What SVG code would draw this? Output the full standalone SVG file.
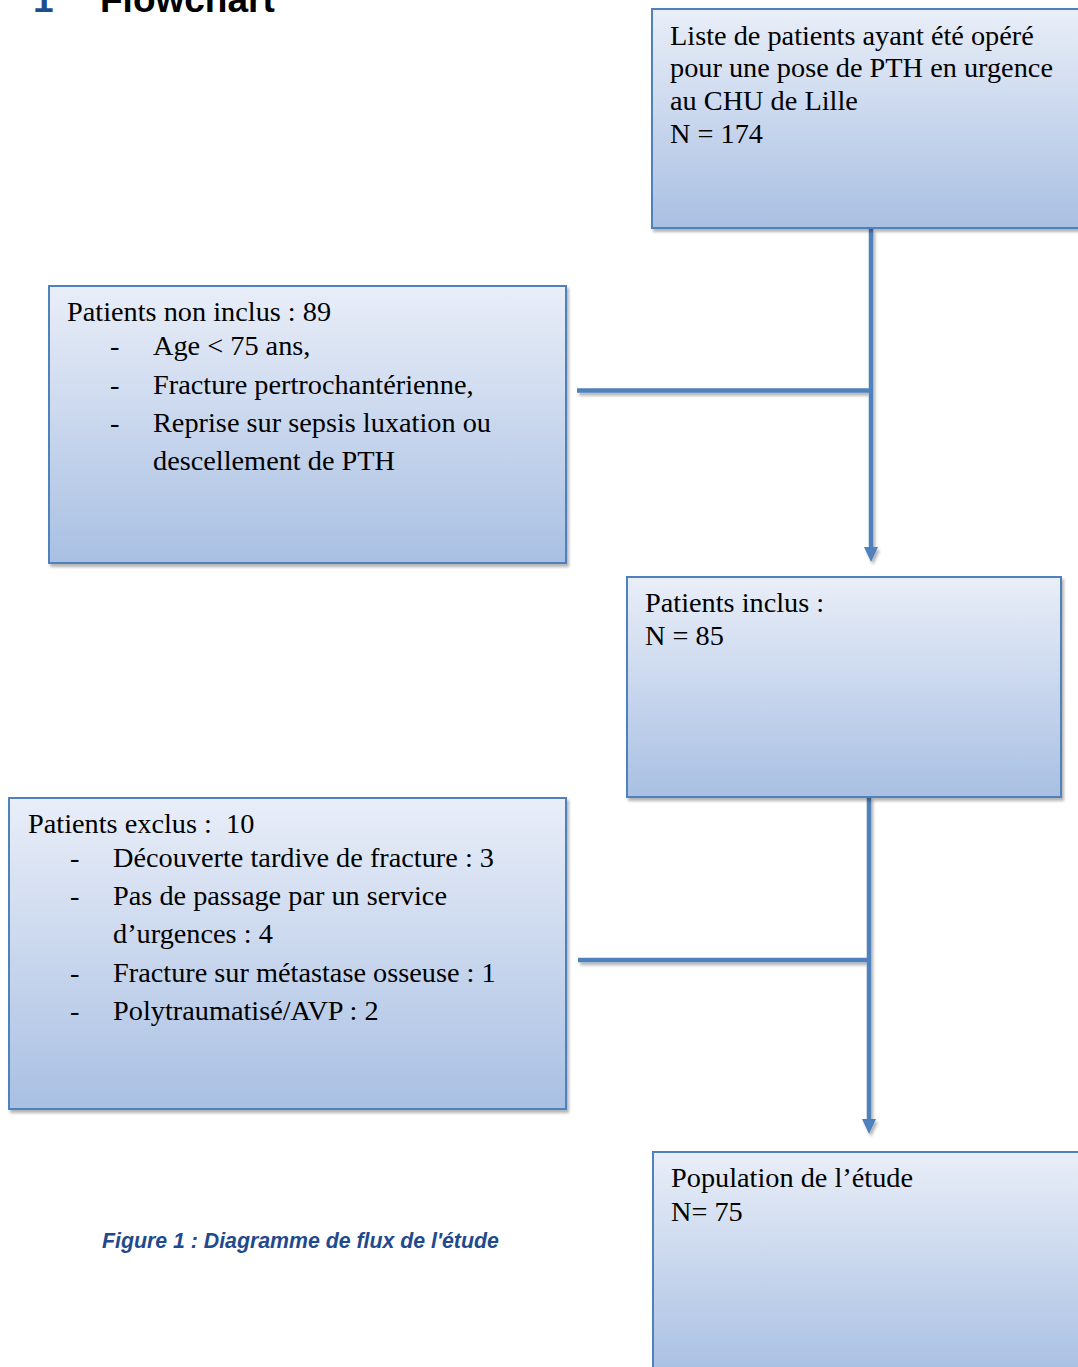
<svg xmlns="http://www.w3.org/2000/svg" width="1078" height="1367" viewBox="0 0 1078 1367">
<style>
.box{fill:url(#g);stroke:#4F81BD;stroke-width:2}
.t{font-family:"Liberation Serif","Times New Roman",serif;font-size:28.3px;fill:#000}
.con{fill:none;stroke:#4F81BD;stroke-width:4.5}
.cap{font-family:"Liberation Sans",Arial,sans-serif;font-size:21.3px;font-weight:bold;font-style:italic;fill:#1F4A8E}
.ttl{font-family:"Liberation Sans",Arial,sans-serif;font-size:37px;font-weight:bold}
</style>
<defs>
<linearGradient id="g" x1="0" y1="0" x2="0" y2="1">
<stop offset="0" stop-color="#E9EEF8"/>
<stop offset="1" stop-color="#A9C0E3"/>
</linearGradient>
<filter id="sh" x="-5%" y="-5%" width="115%" height="115%">
<feGaussianBlur in="SourceAlpha" stdDeviation="1.5"/>
<feOffset dx="2" dy="3" result="b"/>
<feComponentTransfer><feFuncA type="linear" slope="0.3"/></feComponentTransfer>
<feMerge><feMergeNode/><feMergeNode in="SourceGraphic"/></feMerge>
</filter>
<marker id="ah" viewBox="0 0 15 14" refX="0" refY="7" markerWidth="15" markerHeight="14" markerUnits="userSpaceOnUse" orient="auto">
<path d="M0,0 L15,7 L0,14 Z" fill="#4F81BD"/>
</marker>
</defs>
<rect width="1078" height="1367" fill="#fff"/>
<g id="title">
<text class="ttl" x="33" y="12" fill="#1F4E8C">1</text>
<text class="ttl" x="100" y="12" fill="#000">Flowchart</text>
</g>
<g id="connectors" filter="url(#sh)">
<path class="con" d="M871,229 V547" marker-end="url(#ah)"/>
<path class="con" d="M577,390.5 H871"/>
<path class="con" d="M869,797 V1119" marker-end="url(#ah)"/>
<path class="con" d="M578,960 H869"/>
</g>
<g id="node-liste">
<rect class="box" x="652" y="9" width="436" height="219" filter="url(#sh)"/>
<text class="t" x="670" y="45">Liste de patients ayant été opéré</text>
<text class="t" x="670" y="77">pour une pose de PTH en urgence</text>
<text class="t" x="670" y="110">au CHU de Lille</text>
<text class="t" x="670" y="143">N = 174</text>
</g>
<g id="node-non-inclus">
<rect class="box" x="49" y="286" width="517" height="277" filter="url(#sh)"/>
<text class="t" x="67" y="321">Patients non inclus : 89</text>
<text class="t" x="110" y="355">-</text><text class="t" x="153" y="355">Age &lt; 75 ans,</text>
<text class="t" x="110" y="394">-</text><text class="t" x="153" y="394">Fracture pertrochantérienne,</text>
<text class="t" x="110" y="432">-</text><text class="t" x="153" y="432">Reprise sur sepsis luxation ou</text>
<text class="t" x="153" y="470">descellement de PTH</text>
</g>
<g id="node-inclus">
<rect class="box" x="627" y="577" width="434" height="220" filter="url(#sh)"/>
<text class="t" x="645" y="612">Patients inclus :</text>
<text class="t" x="645" y="645">N = 85</text>
</g>
<g id="node-exclus">
<rect class="box" x="9" y="798" width="557" height="311" filter="url(#sh)"/>
<text class="t" x="28" y="833">Patients exclus :&#160; 10</text>
<text class="t" x="70" y="867">-</text><text class="t" x="113" y="867">Découverte tardive de fracture : 3</text>
<text class="t" x="70" y="905">-</text><text class="t" x="113" y="905">Pas de passage par un service</text>
<text class="t" x="113" y="943">d’urgences : 4</text>
<text class="t" x="70" y="982">-</text><text class="t" x="113" y="982">Fracture sur métastase osseuse : 1</text>
<text class="t" x="70" y="1020">-</text><text class="t" x="113" y="1020">Polytraumatisé/AVP : 2</text>
</g>
<g id="node-population">
<rect class="box" x="653" y="1152" width="436" height="222" filter="url(#sh)"/>
<text class="t" x="671" y="1187">Population de l’étude</text>
<text class="t" x="671" y="1221">N= 75</text>
</g>
<g id="caption">
<text class="cap" x="102" y="1248">Figure 1 : Diagramme de flux de l'étude</text>
</g>
</svg>
